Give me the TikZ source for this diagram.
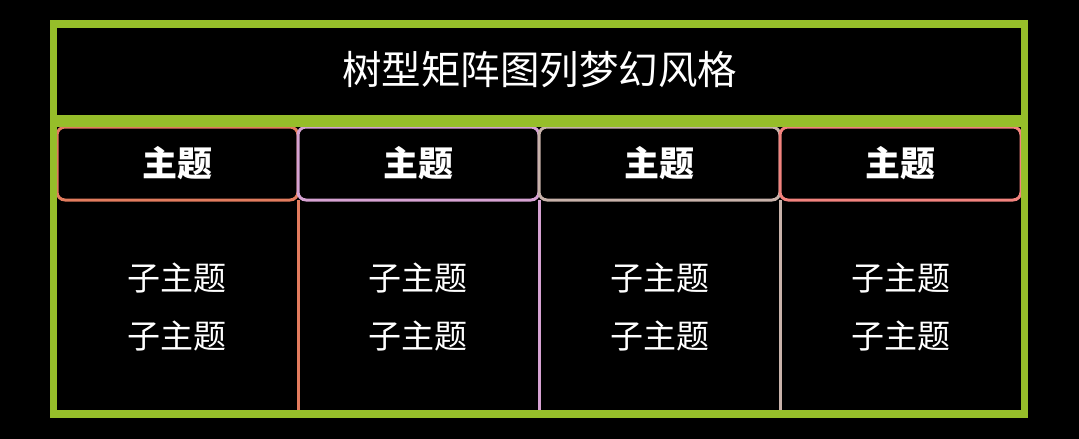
\documentclass[tikz,border=0pt]{standalone}
\usepackage{fontspec}
\setmainfont{Noto Sans CJK SC}
\usetikzlibrary{positioning}
\definecolor{frameGreen}{HTML}{96BE2A}
\definecolor{colA}{HTML}{E27C5E}
\definecolor{colB}{HTML}{D6A2D2}
\definecolor{colC}{HTML}{C8B2AA}
\definecolor{colD}{HTML}{F2837E}
\newcommand{\subpair}{子主题\\子主题}
\begin{document}
\begin{tikzpicture}[x=1pt, y=-1pt,
	head/.style={draw=#1, line width=3pt, rounded corners=8pt, fill=black,
		minimum width=241pt, minimum height=73pt, inner sep=0pt, outer sep=0pt,
		text=white, font=\fontsize{35}{40}\selectfont\bfseries},
	sub/.style={text=white, align=center, font=\fontsize{33}{58}\selectfont},
	split/.style={draw=#1, line width=3pt}]
		%%%%% START %%%%%
		
		\fill[black] (0, 0) rectangle (1079, 439);
		\useasboundingbox (0, 0) rectangle (1079, 439);
		
		\node[text=white, font=\fontsize{39.5}{46}\selectfont] (title) at (539.5, 70) {树型矩阵图列梦幻风格};
		
		\node[head=colA] (h1) at (177.5, 163.5) {主题};
		\node[head=colB] (h2) at (418.5, 163.5) {主题};
		\node[head=colC] (h3) at (659.5, 163.5) {主题};
		\node[head=colD] (h4) at (900.5, 163.5) {主题};
		
		\coordinate (b1) at (298, 410);
		\coordinate (b2) at (539, 410);
		\coordinate (b3) at (780, 410);
		
		\draw[split=colA] (b1 |- h1.south) -- (b1);
		\draw[split=colB] (b2 |- h2.south) -- (b2);
		\draw[split=colC] (b3 |- h3.south) -- (b3);
		
		\node[sub] (s1) at (177, 307.5) {\subpair};
		\node[sub] (s2) at (418, 307.5) {\subpair};
		\node[sub] (s3) at (660, 307.5) {\subpair};
		\node[sub] (s4) at (901, 307.5) {\subpair};
		
		\draw[frameGreen, line width=12pt] (53.5, 121) -- (1024.5, 121);
		\draw[frameGreen, line width=7.5pt] (53.5, 24) rectangle (1024.5, 414);
		
		%%%%% END %%%%%
\end{tikzpicture}
\end{document}
